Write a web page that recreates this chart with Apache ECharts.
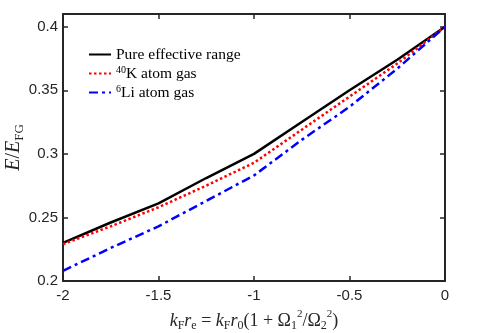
<!DOCTYPE html>
<html>
<head>
<meta charset="utf-8">
<script src="https://cdn.jsdelivr.net/npm/echarts@6/dist/echarts.min.js"></script>
<style>
  html, body { margin: 0; padding: 0; background: #fff; }
  #chart { width: 491px; height: 333px; }
</style>
</head>
<body>
<div id="chart"></div>
<script>
// k_F r_e values
var krValues = [-2, -1.75, -1.5, -1.25, -1, -0.75, -0.5, -0.25, 0];
// E/E_FG curves
var pureRange = [0.230, 0.246, 0.261, 0.281, 0.300, 0.325, 0.350, 0.374, 0.400];
var kGas = [0.229, 0.243, 0.258, 0.275, 0.293, 0.319, 0.345, 0.371, 0.400];
var liGas = [0.208, 0.226, 0.243, 0.263, 0.283, 0.311, 0.337, 0.367, 0.400];
var xTicks = [-2, -1.5, -1, -0.5, 0];
var yTicks = [0.2, 0.25, 0.3, 0.35, 0.4];

function pairs(ys) {
  return krValues.map(function (x, i) { return [x, ys[i]]; });
}

var axisColor = "#262626";
var serif = "'Liberation Serif', 'DejaVu Serif', serif";
var sans = "'Liberation Sans', Arial, sans-serif";

var chart = echarts.init(document.getElementById("chart"));
chart.setOption({
  animation: false,
  grid: { left: 63, right: 46, top: 14, bottom: 52, outerBoundsMode: "none", containLabel: false },
  legend: {
    orient: "vertical",
    left: 83,
    top: 42,
    itemWidth: 22,
    itemHeight: 14,
    itemGap: 2,
    itemStyle: { opacity: 0 },
    data: ["Pure effective range", "40K atom gas", "6Li atom gas"],
    formatter: function (name) {
      if (name === "40K atom gas") return "{sup|40}{t|K atom gas}";
      if (name === "6Li atom gas") return "{sup|6}{t|Li atom gas}";
      return "{t|" + name + "}";
    },
    textStyle: {
      fontFamily: serif,
      fontSize: 15.5,
      color: "#000",
      rich: {
        t: { fontFamily: serif, fontSize: 15.5, color: "#000", lineHeight: 17, verticalAlign: "bottom" },
        sup: { fontFamily: serif, fontSize: 10, color: "#000", lineHeight: 17, verticalAlign: "top" }
      }
    }
  },
  xAxis: [
    {
      type: "value",
      position: "bottom",
      min: -2,
      max: 0,
      interval: 0.5,
      splitLine: { show: false },
      axisLine: { show: true, onZero: false, lineStyle: { color: axisColor, width: 2 } },
      axisTick: { show: true, inside: true, length: 5, lineStyle: { color: axisColor, width: 1.5 } },
      axisLabel: { color: axisColor, fontFamily: sans, fontSize: 15, margin: 7 },
      name: "{i|k}{s|F}{i|r}{s|e}{t| = }{i|k}{s|F}{i|r}{s|0}{t|(1 + Ω}{s|1}{p|2}{t|/Ω}{s|2}{p|2}{t|)}",
      nameLocation: "middle",
      nameGap: 28,
      nameMoveOverlap: false,
      nameTextStyle: {
        rich: {
          t: { fontFamily: serif, fontSize: 18, color: axisColor, lineHeight: 24, verticalAlign: "middle" },
          i: { fontFamily: serif, fontStyle: "italic", fontSize: 18, color: axisColor, lineHeight: 24, verticalAlign: "middle" },
          s: { fontFamily: serif, fontSize: 12, color: axisColor, lineHeight: 24, verticalAlign: "bottom", padding: [0, 0, 1, 0] },
          p: { fontFamily: serif, fontSize: 11, color: axisColor, lineHeight: 22, verticalAlign: "top" }
        }
      }
    },
    {
      type: "value",
      position: "top",
      min: -2,
      max: 0,
      interval: 0.5,
      splitLine: { show: false },
      axisLine: { show: true, onZero: false, lineStyle: { color: axisColor, width: 2 } },
      axisTick: { show: true, inside: true, length: 5, lineStyle: { color: axisColor, width: 1.5 } },
      axisLabel: { show: false }
    }
  ],
  yAxis: [
    {
      type: "value",
      position: "left",
      min: 0.2,
      max: 0.41,
      interval: 0.05,
      splitLine: { show: false },
      axisLine: { show: true, onZero: false, lineStyle: { color: axisColor, width: 2 } },
      axisTick: { show: true, inside: true, length: 5, lineStyle: { color: axisColor, width: 1.5 } },
      axisLabel: {
        color: axisColor, fontFamily: sans, fontSize: 15, margin: 5, showMaxLabel: false,
        formatter: function (v) {
          var r = Math.round(v * 100) / 100;
          return yTicks.indexOf(r) >= 0 ? String(r) : "";
        }
      },
      name: "{i|E}{t|/}{i|E}{s|FG}",
      nameLocation: "middle",
      nameGap: 37,
      nameMoveOverlap: false,
      nameTextStyle: {
        rich: {
          t: { fontFamily: serif, fontSize: 20, color: axisColor, lineHeight: 24, verticalAlign: "middle" },
          i: { fontFamily: serif, fontStyle: "italic", fontSize: 20, color: axisColor, lineHeight: 24, verticalAlign: "middle" },
          s: { fontFamily: serif, fontSize: 13, color: axisColor, lineHeight: 24, verticalAlign: "bottom" }
        }
      }
    },
    {
      type: "value",
      position: "right",
      min: 0.2,
      max: 0.41,
      interval: 0.05,
      splitLine: { show: false },
      axisLine: { show: true, onZero: false, lineStyle: { color: axisColor, width: 2 } },
      axisTick: { show: true, inside: true, length: 5, lineStyle: { color: axisColor, width: 1.5 } },
      axisLabel: { show: false }
    }
  ],
  series: [
    {
      name: "Pure effective range",
      type: "line",
      symbol: "none",
      data: pairs(pureRange),
      lineStyle: { color: "#000000", width: 2.5, type: "solid" },
      itemStyle: { color: "#000000" }
    },
    {
      name: "40K atom gas",
      type: "line",
      symbol: "none",
      data: pairs(kGas),
      lineStyle: { color: "#ff0000", width: 2.5, type: [2.5, 2.5] },
      itemStyle: { color: "#ff0000" }
    },
    {
      name: "6Li atom gas",
      type: "line",
      symbol: "none",
      data: pairs(liGas),
      lineStyle: { color: "#0000ff", width: 2.5, type: [9, 4, 3, 4] },
      itemStyle: { color: "#0000ff" }
    }
  ]
});
</script>
</body>
</html>
